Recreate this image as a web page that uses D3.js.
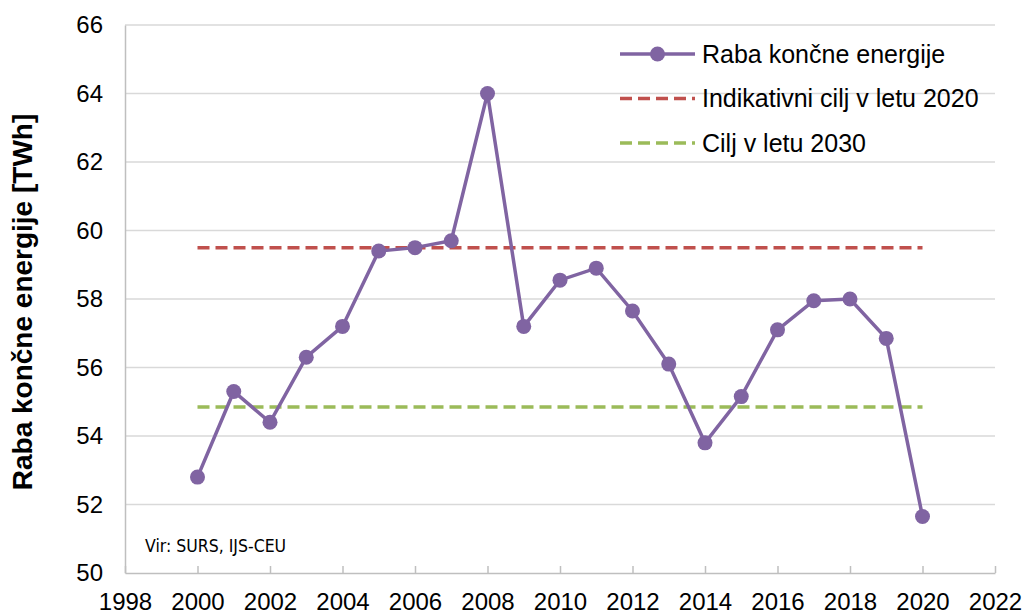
<!DOCTYPE html>
<html>
<head>
<meta charset="utf-8">
<script src="https://cdn.jsdelivr.net/npm/d3@7"></script>
<style>
  body { margin: 0; background: #fff; }
  svg { display: block; font-family: Arial, "Liberation Sans", sans-serif; }
</style>
</head>
<body>
<script>
// data
var years = [2000, 2001, 2002, 2003, 2004, 2005, 2006, 2007, 2008, 2009, 2010,
             2011, 2012, 2013, 2014, 2015, 2016, 2017, 2018, 2019, 2020];
var raba = [52.8, 55.3, 54.4, 56.3, 57.2, 59.4, 59.5, 59.7, 64.0, 57.2, 58.55,
            58.9, 57.65, 56.1, 53.8, 55.15, 57.1, 57.95, 58.0, 56.85, 51.65];
var cilj2020 = [59.5, 59.5];
var cilj2030 = [54.85, 54.85];
var targetYears = [2000, 2020];
var yTicks = [50, 52, 54, 56, 58, 60, 62, 64, 66];
var xTicks = [1998, 2000, 2002, 2004, 2006, 2008, 2010, 2012, 2014, 2016, 2018, 2020, 2022];
var legendLabels = ["Raba končne energije", "Indikativni cilj v letu 2020", "Cilj v letu 2030"];

var width = 1024, height = 614;
var margin = {top: 25, right: 29, bottom: 41, left: 125};

var svg = d3.select("body").append("svg")
    .attr("width", width)
    .attr("height", height);

var x = d3.scaleLinear().domain([1998, 2022]).range([margin.left, width - margin.right]);
var y = d3.scaleLinear().domain([50, 66]).range([height - margin.bottom, margin.top]);

// gridlines
svg.append("g")
    .selectAll("line")
    .data(yTicks.slice(1))
    .enter().append("line")
    .attr("x1", x(1998)).attr("x2", x(2022))
    .attr("y1", function (d) { return y(d); })
    .attr("y2", function (d) { return y(d); })
    .attr("stroke", "#d9d9d9")
    .attr("stroke-width", 1.5);

// y axis
var yAxis = svg.append("g")
    .attr("transform", "translate(" + margin.left + ",0)")
    .call(d3.axisLeft(y).tickValues(yTicks).tickSize(0).tickPadding(22));
yAxis.attr("font-size", null).attr("font-family", null);
yAxis.select(".domain").attr("stroke", "#bfbfbf").attr("stroke-width", 1.5);
yAxis.selectAll("text").style("font-size", "24px").attr("fill", "#000");

// x axis, ticks pointing up into the plot
var xAxis = svg.append("g")
    .attr("transform", "translate(0," + y(50) + ")")
    .call(d3.axisBottom(x).tickValues(xTicks).tickFormat(d3.format("d")).tickSizeInner(-7).tickSizeOuter(0).tickPadding(20));
xAxis.attr("font-size", null).attr("font-family", null);
xAxis.select(".domain").attr("stroke", "#bfbfbf").attr("stroke-width", 1.5);
xAxis.selectAll("line").attr("stroke", "#bfbfbf").attr("stroke-width", 1.5);
xAxis.selectAll("text").style("font-size", "24px").attr("fill", "#000");

// y axis title
svg.append("text")
    .attr("transform", "translate(32,302) rotate(-90)")
    .attr("text-anchor", "middle")
    .style("font-size", "28px")
    .attr("font-weight", "bold")
    .text("Raba končne energije [TWh]");

// target lines
var line = d3.line()
    .x(function (d) { return x(d[0]); })
    .y(function (d) { return y(d[1]); });

svg.append("path")
    .datum(d3.zip(targetYears, cilj2020))
    .attr("d", line)
    .attr("fill", "none")
    .attr("stroke", "#C0504D")
    .attr("stroke-width", 3.5)
    .attr("stroke-dasharray", "12,6");

svg.append("path")
    .datum(d3.zip(targetYears, cilj2030))
    .attr("d", line)
    .attr("fill", "none")
    .attr("stroke", "#9BBB59")
    .attr("stroke-width", 3.5)
    .attr("stroke-dasharray", "12,6");

// main series
var series = d3.zip(years, raba);
svg.append("path")
    .datum(series)
    .attr("d", line)
    .attr("fill", "none")
    .attr("stroke", "#8064A2")
    .attr("stroke-width", 3.5);

svg.append("g")
    .selectAll("circle")
    .data(series)
    .enter().append("circle")
    .attr("cx", function (d) { return x(d[0]); })
    .attr("cy", function (d) { return y(d[1]); })
    .attr("r", 7.5)
    .attr("fill", "#8064A2");

// source note
svg.append("text")
    .attr("x", 145).attr("y", 552)
    .style("font-size", "17.5px")
    .attr("font-family", "'DejaVu Sans Condensed', 'DejaVu Sans', sans-serif")
    .text("Vir: SURS, IJS-CEU");

// legend
var legend = svg.append("g").attr("transform", "translate(620,54)");
var legendColors = ["#8064A2", "#C0504D", "#9BBB59"];
legendLabels.forEach(function (lab, i) {
    var g = legend.append("g").attr("transform", "translate(0," + (i * 44.5) + ")");
    g.append("line")
        .attr("x1", 0).attr("x2", 75)
        .attr("stroke", legendColors[i])
        .attr("stroke-width", 3.5)
        .attr("stroke-dasharray", i === 0 ? null : "12,6");
    if (i === 0) {
        g.append("circle").attr("cx", 37.5).attr("r", 7.5).attr("fill", legendColors[i]);
    }
    g.append("text")
        .attr("x", 82).attr("dy", "0.35em")
        .style("font-size", "25px")
        .text(lab);
});
</script>
</body>
</html>
